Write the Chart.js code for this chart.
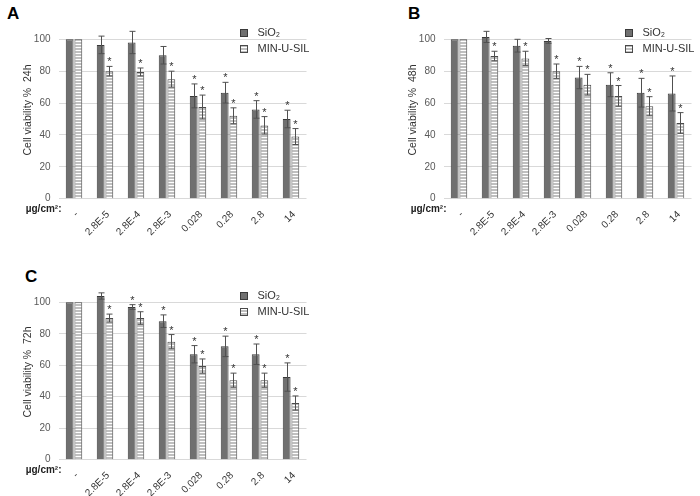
<!DOCTYPE html>
<html>
<head>
<meta charset="utf-8">
<script src="https://cdn.jsdelivr.net/npm/chart.js@4.4.1/dist/chart.umd.min.js"></script>
<style>
  body { margin: 0; background: #fff; width: 700px; height: 496px; position: relative; overflow: hidden;
         font-family: "Liberation Sans", Arial, sans-serif; }
  .panel { position: absolute; }
  .letter { position: absolute; font: bold 17px/17px "Liberation Sans", Arial, sans-serif; color: #000; }
</style>
</head>
<body>
<div class="letter" style="left:7px;top:5px">A</div>
<div class="letter" style="left:408px;top:5px">B</div>
<div class="letter" style="left:25px;top:268px">C</div>
<div class="panel" style="left:0;top:0"><canvas id="chartA" width="350" height="250"></canvas></div>
<div class="panel" style="left:350px;top:0"><canvas id="chartB" width="350" height="250"></canvas></div>
<div class="panel" style="left:0;top:250px"><canvas id="chartC" width="350" height="246"></canvas></div>
<script>
// doses (x categories) and y ticks
const doses = ['-', '2.8E-5', '2.8E-4', '2.8E-3', '0.028', '0.28', '2.8', '14'];
const yTicks = [0, 20, 40, 60, 80, 100];
const seriesNames = ['SiO\u2082', 'MIN-U-SIL'];

// 24h
const sio2_24h     = [100, 96.5, 98, 90, 64.5, 66.5, 56, 50];
const sio2_24h_sd  = [0, 5.5, 7, 5.5, 7.5, 6.5, 5.5, 5.5];
const sio2_24h_sig = [0, 0, 0, 0, 1, 1, 1, 1];
const min_24h      = [100, 80, 79.5, 75, 57.5, 52, 46, 39];
const min_24h_sd   = [0, 3, 2.5, 5, 7.5, 5, 5.5, 5];
const min_24h_sig  = [0, 1, 1, 1, 1, 1, 1, 1];

// 48h
const sio2_48h     = [100, 101.5, 96, 99, 76, 71.5, 66.5, 66];
const sio2_48h_sd  = [0, 3.5, 4, 1.5, 7, 7.5, 9, 11];
const sio2_48h_sig = [0, 0, 0, 0, 1, 1, 1, 1];
const min_48h      = [100, 89.5, 88, 80, 71.5, 64.5, 58, 47.5];
const min_48h_sd   = [0, 3, 4.5, 4.5, 6.5, 6.5, 6, 6.5];
const min_48h_sig  = [0, 1, 1, 1, 1, 1, 1, 1];

// 72h
const sio2_72h     = [100, 104, 97, 88, 67, 72, 67, 52.5];
const sio2_72h_sd  = [0, 2, 1.5, 4, 5.5, 6.5, 6.5, 9];
const sio2_72h_sig = [0, 0, 1, 1, 1, 1, 1, 1];
const min_72h      = [100, 90, 90, 75, 59.5, 50.5, 50.5, 36];
const min_72h_sd   = [0, 2.5, 4, 4.5, 4.5, 4.5, 4.5, 4.5];
const min_72h_sig  = [0, 1, 1, 1, 1, 1, 1, 1];

const FONT = '"Liberation Sans", Arial, sans-serif';

// horizontal stripes for MIN-U-SIL
function stripePattern() {
    const c = document.createElement('canvas');
    c.width = 4; c.height = 3;
    const g = c.getContext('2d');
    g.fillStyle = '#ffffff'; g.fillRect(0, 0, 4, 3);
    g.fillStyle = '#bfbfbf'; g.fillRect(0, 0, 4, 2);
    return g.createPattern(c, 'repeat');
}
const stripes = stripePattern();

// error bars + asterisks
const errorBarPlugin = {
    id: 'errorBars',
    afterDatasetsDraw(chart) {
        const ctx = chart.ctx;
        const y = chart.scales.y;
        chart.data.datasets.forEach((ds, i) => {
            const meta = chart.getDatasetMeta(i);
            meta.data.forEach((bar, j) => {
                const v = ds.data[j], e = ds.errors[j];
                const yTop = y.getPixelForValue(v + e);
                const x = Math.round(bar.x) + 0.5;
                ctx.save();
                if (e > 0) {
                    const yBot = y.getPixelForValue(v - e);
                    ctx.strokeStyle = '#505050';
                    ctx.lineWidth = 1;
                    ctx.beginPath();
                    ctx.moveTo(x, yTop); ctx.lineTo(x, yBot);
                    ctx.moveTo(x - 3, yTop); ctx.lineTo(x + 3, yTop);
                    ctx.moveTo(x - 3, yBot); ctx.lineTo(x + 3, yBot);
                    ctx.stroke();
                }
                if (ds.sig[j]) {
                    ctx.fillStyle = '#333';
                    ctx.font = '11px ' + FONT;
                    ctx.textAlign = 'center';
                    ctx.textBaseline = 'alphabetic';
                    ctx.fillText('*', x, yTop - 1);
                }
                ctx.restore();
            });
        });
    }
};

// legend box at top right, y title, unit label
const extrasPlugin = {
    id: 'extras',
    afterDraw(chart) {
        const ctx = chart.ctx;
        const area = chart.chartArea;
        ctx.save();
        chart.data.datasets.forEach((ds, i) => {
            const bx = Math.round(area.right - 66.5) + 0.5;
            const by = Math.round(area.top - 10 + i * 16) + 0.5;
            ctx.fillStyle = ds.backgroundColor;
            ctx.fillRect(bx, by, 7, 7);
            ctx.strokeStyle = ds.borderColor;
            ctx.lineWidth = 1;
            ctx.strokeRect(bx, by, 7, 7);
            ctx.fillStyle = '#333';
            ctx.font = '11px ' + FONT;
            ctx.textAlign = 'left';
            ctx.textBaseline = 'middle';
            ctx.fillText(ds.label, bx + 17, by + 3.5);
        });

        // y axis title, a bit above the middle as in the original
        ctx.save();
        ctx.translate(area.left - 30.5, (area.top + area.bottom) / 2 - 9);
        ctx.rotate(-Math.PI / 2);
        ctx.fillStyle = '#333';
        ctx.font = '10.5px ' + FONT;
        ctx.textAlign = 'center';
        ctx.textBaseline = 'middle';
        ctx.fillText(chart.options.plugins.extras.yTitle, 0, 0);
        ctx.restore();

        ctx.fillStyle = '#222';
        ctx.font = 'bold 10px ' + FONT;
        ctx.textAlign = 'right';
        ctx.textBaseline = 'middle';
        ctx.fillText('\u00b5g/cm\u00b2:', area.left + 3, area.bottom + 11);
        ctx.restore();
    }
};

function makeChart(id, title, sio2, sio2Sd, sio2Sig, min, minSd, minSig, pad, xHeight) {
    return new Chart(document.getElementById(id).getContext('2d'), {
        type: 'bar',
        data: {
            labels: doses,
            datasets: [{
                label: seriesNames[0],
                data: sio2, errors: sio2Sd, sig: sio2Sig,
                backgroundColor: '#707070',
                borderColor: '#3a3a3a',
                borderWidth: 1,
                clip: false
            }, {
                label: seriesNames[1],
                data: min, errors: minSd, sig: minSig,
                backgroundColor: stripes,
                borderColor: '#4a4a4a',
                borderWidth: 1,
                clip: false
            }]
        },
        options: {
            responsive: false,
            animation: false,
            layout: { padding: pad },
            datasets: { bar: { categoryPercentage: 0.56, barPercentage: 0.9 } },
            plugins: {
                legend: { display: false },
                tooltip: { enabled: false },
                extras: { yTitle: title }
            },
            scales: {
                x: {
                    grid: { display: false },
                    border: { display: false },
                    ticks: { color: '#333', font: { family: FONT, size: 10 }, minRotation: 45, maxRotation: 45,
                             padding: 2, labelOffset: 3 },
                    afterFit: s => { s.height = xHeight; }
                },
                y: {
                    min: 0, max: 100,
                    afterBuildTicks: s => { s.ticks = yTicks.map(v => ({ value: v })); },
                    grid: { color: '#d9d9d9', drawTicks: false },
                    border: { display: false },
                    ticks: { color: '#595959', font: { family: FONT, size: 10 }, padding: 8 },
                    afterFit: s => { s.width = 40.5; }
                }
            }
        },
        plugins: [errorBarPlugin, extrasPlugin]
    });
}

makeChart('chartA', 'Cell viability %  24h', sio2_24h, sio2_24h_sd, sio2_24h_sig, min_24h, min_24h_sd, min_24h_sig,
    { left: 18, right: 43.5, top: 39.3, bottom: 0 }, 51.3);
makeChart('chartB', 'Cell viability %  48h', sio2_48h, sio2_48h_sd, sio2_48h_sig, min_48h, min_48h_sd, min_48h_sig,
    { left: 53, right: 8.5, top: 39.3, bottom: 0 }, 51.3);
makeChart('chartC', 'Cell viability %  72h', sio2_72h, sio2_72h_sd, sio2_72h_sig, min_72h, min_72h_sd, min_72h_sig,
    { left: 18, right: 43.5, top: 52.3, bottom: 0 }, 36.3);
</script>
</body>
</html>
